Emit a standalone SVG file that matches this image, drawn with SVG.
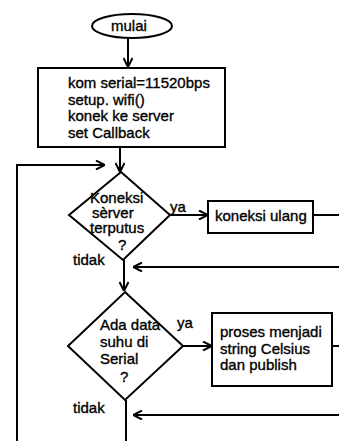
<svg xmlns="http://www.w3.org/2000/svg" width="339" height="441" viewBox="0 0 339 441">
<style>
.s{fill:#fff;stroke:#000;stroke-width:2}
.l{fill:none;stroke:#000;stroke-width:2}
text{font-family:"Liberation Sans",Arial,sans-serif;font-size:15px;fill:#000;stroke:#000;stroke-width:0.35}
</style>
<defs>
<marker id="a" viewBox="0 0 10 10" refX="10" refY="5" markerWidth="10" markerHeight="10" markerUnits="userSpaceOnUse" orient="auto">
<path d="M1,0.5 L10,5 L1,9.5" fill="none" stroke="#000" stroke-width="2"/>
</marker>
</defs>
<rect width="339" height="441" fill="#fff"/>
<g id="connectors">
<path class="l" d="M128,37 V67" marker-end="url(#a)"/>
<path class="l" d="M120,147 V172" marker-end="url(#a)"/>
<path class="l" d="M17,441 V165 H105" marker-end="url(#a)"/>
<path class="l" d="M170,215 H208" marker-end="url(#a)"/>
<path class="l" d="M313,215 H339"/>
<path class="l" d="M339,267 H133" marker-end="url(#a)"/>
<path class="l" d="M124,260 V291" marker-end="url(#a)"/>
<path class="l" d="M183,346 H212" marker-end="url(#a)"/>
<path class="l" d="M332,346 H339"/>
<path class="l" d="M339,415 H133" marker-end="url(#a)"/>
<path class="l" d="M126,400 V441"/>
<text x="170" y="212">ya</text>
<text x="73" y="265">tidak</text>
<text x="177" y="328">ya</text>
<text x="73" y="413">tidak</text>
</g>
<g id="mulai">
<ellipse class="s" cx="132" cy="26" rx="40" ry="12"/>
<text x="111" y="31">mulai</text>
</g>
<g id="init">
<rect class="s" x="38" y="68" width="187" height="79"/>
<text x="68" y="88">kom serial=11520bps</text>
<text x="68" y="104.5">setup. wifi()</text>
<text x="68" y="121">konek ke server</text>
<text x="68" y="137.5">set Callback</text>
</g>
<g id="cek-koneksi">
<polygon class="s" points="121,172 170,215 123,260 69,215"/>
<text x="90" y="203">Koneksi</text>
<text x="92" y="218">sèrver</text>
<text x="90" y="233">terputus</text>
<text x="118" y="250">?</text>
</g>
<g id="koneksi-ulang">
<rect class="s" x="208" y="201" width="105" height="32"/>
<text x="215" y="221">koneksi ulang</text>
</g>
<g id="cek-data">
<polygon class="s" points="125,292 183,346 125,400 68,346"/>
<text x="100" y="330">Ada data</text>
<text x="100" y="347">suhu di</text>
<text x="100" y="364">Serial</text>
<text x="120" y="382">?</text>
</g>
<g id="proses">
<rect class="s" x="212" y="313" width="120" height="73"/>
<text x="220" y="337">proses menjadi</text>
<text x="220" y="354">string Celsius</text>
<text x="220" y="370">dan publish</text>
</g>
</svg>
